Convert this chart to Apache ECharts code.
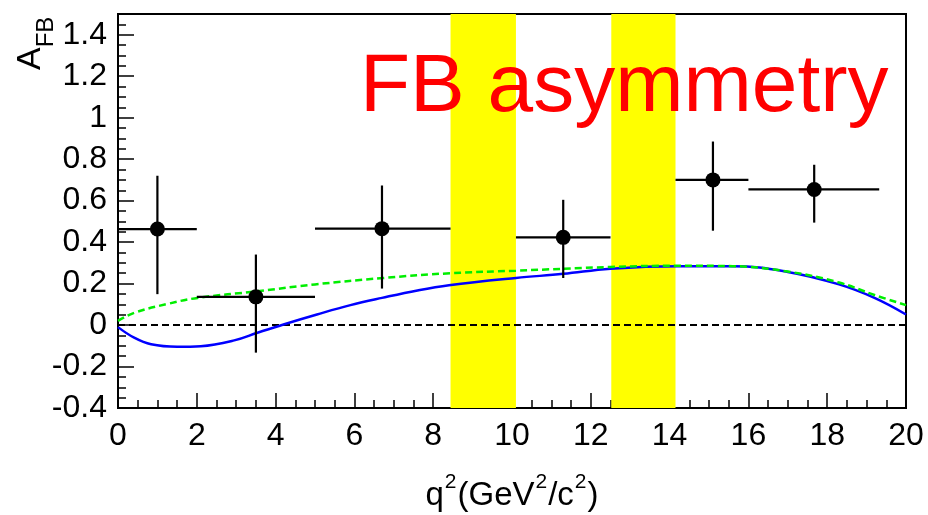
<!DOCTYPE html>
<html><head><meta charset="utf-8">
<script src="https://cdn.jsdelivr.net/npm/echarts@6/dist/echarts.min.js"></script>
<style>html,body{margin:0;padding:0;background:#fff}#c{width:928px;height:515px}</style>
</head><body><div id="c"></div>
<script>
// Data points with error bars
const pointX   = [1.0, 3.5, 6.7, 11.3, 15.1, 17.67];
const pointY   = [0.463, 0.136, 0.465, 0.423, 0.70, 0.654];
const binLow   = [0, 2, 5, 10.1, 14.15, 16.0];
const binHigh  = [2, 5, 8.44, 12.5, 16.0, 19.32];
const errLow   = [0.149, -0.133, 0.176, 0.227, 0.455, 0.494];
const errHigh  = [0.72, 0.34, 0.673, 0.604, 0.885, 0.773];
// Theory curves
const blueX  = [0, 0.41, 0.84, 1.5, 2.1, 2.95, 3.54, 4.2, 5.05, 5.9, 6.7, 7.6, 8.4, 10.1, 11.3, 12.5, 14.2, 15.6, 17.0, 18.3, 19.2, 20];
const blueY  = [-0.01, -0.061, -0.093, -0.105, -0.102, -0.074, -0.037, 0.003, 0.051, 0.096, 0.131, 0.167, 0.192, 0.227, 0.247, 0.272, 0.284, 0.284, 0.256, 0.196, 0.131, 0.051];
const greenX = [0, 0.41, 1.26, 2.02, 3.54, 5.0, 6.73, 8.44, 10.1, 12.5, 14.2, 15.6, 17.0, 18.3, 19.2, 20];
const greenY = [0.02, 0.059, 0.102, 0.131, 0.163, 0.196, 0.227, 0.25, 0.262, 0.28, 0.286, 0.284, 0.258, 0.205, 0.145, 0.096];
// Vetoed regions
const vetoLow  = [8.44, 12.52];
const vetoHigh = [10.1, 14.15];
// Zero reference line
const zeroX = [0, 20];
const zeroY = [0, 0];
// Axis ranges
const xRange = [0, 20];
const yRange = [-0.4, 1.5];

const FONT = 'Liberation Sans, Arial, sans-serif';
const pts = pointX.map((x, i) => [x, pointY[i], binLow[i], binHigh[i], errLow[i], errHigh[i]]);
const chart = echarts.init(document.getElementById('c'), null, {renderer: 'canvas'});
chart.setOption({
  animation: false,
  backgroundColor: '#fff',
  grid: {left: 118, right: 22, top: 14, bottom: 107, show: true, borderColor: '#000', borderWidth: 2,
         backgroundColor: 'transparent', containLabel: false, outerBoundsMode: 'none'},
  xAxis: {
    type: 'value', min: xRange[0], max: xRange[1], interval: 2,
    axisLine: {show: true, onZero: false, lineStyle: {color: '#000', width: 2}},
    axisTick: {inside: true, length: 15, lineStyle: {color: '#000', width: 1.5}},
    minorTick: {show: true, splitNumber: 4, length: 8, lineStyle: {color: '#000', width: 1.5}},
    splitLine: {show: false},
    axisLabel: {color: '#000', fontFamily: FONT, fontSize: 32, margin: 12},
    name: '{b|q}{p|2}{b|(GeV}{p|2}{b|/c}{p|2}{b|)}',
    nameLocation: 'middle', nameGap: 64,
    nameTextStyle: {fontFamily: FONT, fontSize: 33, color: '#000', rich: {
      b: {fontFamily: FONT, fontSize: 33, color: '#000', lineHeight: 40, verticalAlign: 'bottom'},
      p: {fontFamily: FONT, fontSize: 21, color: '#000', lineHeight: 40, verticalAlign: 'top', padding: [0, 1, 0, 1]}
    }}
  },
  yAxis: {
    type: 'value', min: yRange[0], max: yRange[1], interval: 0.2,
    axisLine: {show: true, onZero: false, lineStyle: {color: '#000', width: 2}},
    axisTick: {inside: true, length: 16, lineStyle: {color: '#000', width: 1.5}},
    minorTick: {show: true, splitNumber: 4, length: 8, lineStyle: {color: '#000', width: 1.5}},
    splitLine: {show: false},
    axisLabel: {color: '#000', fontFamily: FONT, fontSize: 32, margin: 11, showMaxLabel: false,
      formatter: v => String(Math.round(v * 10) / 10)}
  },
  graphic: [
    {type: 'text', rotation: Math.PI / 2, x: 14, y: 70, z: 10,
     style: {text: '{a|A}{s|FB}', rich: {
       a: {fontFamily: FONT, fontSize: 34, color: '#000', lineHeight: 44, verticalAlign: 'top'},
       s: {fontFamily: FONT, fontSize: 24, color: '#000', lineHeight: 44, verticalAlign: 'bottom'}
     }}},
    {type: 'text', x: 360, y: 47, z: 10,
     style: {text: 'FB asymmetry', fontFamily: FONT, fontSize: 82, fill: '#ff0000'}}
  ],
  series: [
    {type: 'line', data: [], z: 1, silent: true,
     markArea: {silent: true, itemStyle: {color: '#ffff00', opacity: 1},
       data: vetoLow.map((lo, i) => [{xAxis: lo}, {xAxis: vetoHigh[i]}])}},
    {type: 'line', data: zeroX.map((x, i) => [x, zeroY[i]]), symbol: 'none', z: 3,
     lineStyle: {color: '#000', width: 2, type: [7, 4]}},
    {type: 'line', data: blueX.map((x, i) => [x, blueY[i]]), symbol: 'none', smooth: 0.4, z: 4,
     lineStyle: {color: '#0000ff', width: 2.5}},
    {type: 'line', data: greenX.map((x, i) => [x, greenY[i]]), symbol: 'none', smooth: 0.4, z: 5,
     lineStyle: {color: '#00ee00', width: 2.5, type: [7, 4]}},
    {type: 'custom', z: 6, data: pts,
     renderItem: (params, api) => {
       const x = api.value(0), y = api.value(1);
       const l = api.coord([api.value(2), y]), h = api.coord([api.value(3), y]);
       const b = api.coord([x, api.value(4)]), t = api.coord([x, api.value(5)]);
       return {type: 'group', children: [
         {type: 'line', shape: {x1: l[0], y1: l[1], x2: h[0], y2: h[1]}, style: {stroke: '#000', lineWidth: 2.2}},
         {type: 'line', shape: {x1: b[0], y1: b[1], x2: t[0], y2: t[1]}, style: {stroke: '#000', lineWidth: 2.2}}
       ]};
     }},
    {type: 'scatter', z: 7, data: pointX.map((x, i) => [x, pointY[i]]), symbol: 'circle', symbolSize: 15,
     itemStyle: {color: '#000', opacity: 1}}
  ]
});
</script></body></html>
